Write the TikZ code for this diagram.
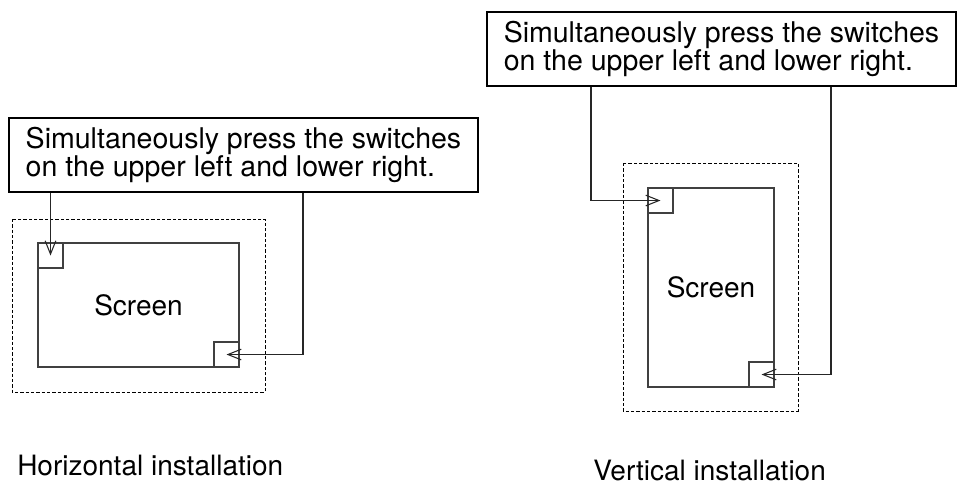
\documentclass[tikz,border=0pt]{standalone}
\usepackage{fontspec}
\setmainfont{TeX Gyre Heros}
\usetikzlibrary{arrows.meta}

\begin{document}
\begin{tikzpicture}[x=0.75pt, y=-0.75pt]
  \useasboundingbox (0, 0) rectangle (958, 487);

  \tikzstyle{msgbox}=[draw, line width=1.5pt, minimum width=351.75pt, inner sep=0pt, minimum height=56pt, align=left, font=\fontsize{21.4}{19.5}\selectfont]
  \tikzstyle{frame}=[draw, dash pattern=on 2.4pt off 1.6pt, line width=0.6pt]
  \tikzstyle{screen}=[draw, black!75, line width=0.8pt, inner sep=0pt, text=black, font=\fontsize{21}{24}\selectfont]
  \tikzstyle{switch}=[draw, black!75, line width=0.8pt, inner sep=0pt, minimum size=18.75pt]
  \tikzstyle{caption}=[inner sep=0pt, anchor=base west, font=\fontsize{21}{24}\selectfont]
  \tikzstyle{arr}=[line width=0.8pt, black!85, -{Straight Barb[length=10pt, width=8pt]}]

  % Horizontal
  \draw[frame] (12, 219) rectangle (265, 392);
  \node[screen, minimum width=150.75pt, minimum height=93pt] (lscr) at (138.5, 305) {Screen};
  \node[switch, anchor=north west] (ltl) at (lscr.north west) {};
  \node[switch, anchor=south east] (lbr) at (lscr.south east) {};
  \node[msgbox] (lbox) at (243.5, 155) {Simultaneously press the switches\\on the upper left and lower right.};
  \coordinate (lbend) at (303, 0);
  \node[caption] (lcap) at (17, 475) {Horizontal installation};

  \draw[arr] (lbox.south -| ltl.center) -- (ltl.center);
  \draw[arr] (lbox.south -| lbend) |- (lbr.center);

  % Vertical
  \draw[frame] (623, 163) rectangle (798, 411);
  \node[screen, minimum width=94.5pt, minimum height=149.25pt] (rscr) at (711, 287.5) {Screen};
  \node[switch, anchor=north west] (rtl) at (rscr.north west) {};
  \node[switch, anchor=south east] (rbr) at (rscr.south east) {};
  \node[msgbox] (rbox) at (721.5, 49) {Simultaneously press the switches\\on the upper left and lower right.};
  \coordinate (rbendA) at (591, 0);
  \coordinate (rbendB) at (831, 0);
  \node[caption] (rcap) at (593, 480) {Vertical installation};

  \draw[arr] (rbox.south -| rbendA) |- (rtl.center);
  \draw[arr] (rbox.south -| rbendB) |- (rbr.center);
\end{tikzpicture}
\end{document}
